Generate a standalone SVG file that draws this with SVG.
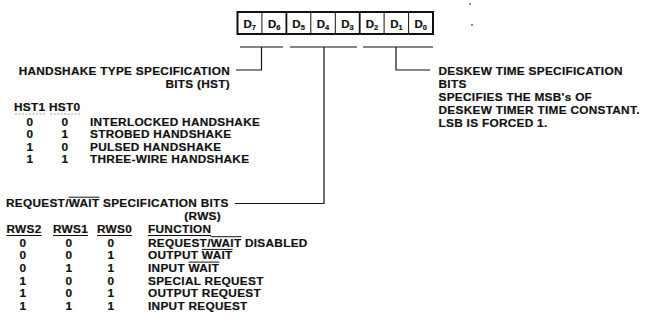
<svg xmlns="http://www.w3.org/2000/svg" width="649" height="323" viewBox="0 0 649 323">
<style>
text{font-family:"Liberation Sans",Arial,sans-serif;font-weight:bold;font-size:11.8px;letter-spacing:0.3px;fill:#111;stroke:#111;stroke-width:0.2px}
.reg{font-size:11.5px;letter-spacing:0}
.sub{font-size:7.5px}
.mid{text-anchor:middle}
.end{text-anchor:end}
.box{fill:#fff;stroke:#111;stroke-width:2}
.sep{stroke:#111;stroke-width:1}
.sepb{stroke:#111;stroke-width:1.8}
.wire{fill:none;stroke:#111;stroke-width:1.2}
.bar{stroke:#111;stroke-width:1}
.faint{stroke:#888;stroke-width:0.8;stroke-dasharray:2 1.5}
</style>
<g id="register">
<rect class="box" x="237.5" y="12" width="195.5" height="22"/>
<line class="sep" x1="261.9" y1="12" x2="261.9" y2="34"/>
<line class="sepb" x1="286.4" y1="12" x2="286.4" y2="34"/>
<line class="sep" x1="310.8" y1="12" x2="310.8" y2="34"/>
<line class="sep" x1="335.3" y1="12" x2="335.3" y2="34"/>
<line class="sepb" x1="359.7" y1="12" x2="359.7" y2="34"/>
<line class="sep" x1="384.1" y1="12" x2="384.1" y2="34"/>
<line class="sep" x1="408.6" y1="12" x2="408.6" y2="34"/>
<text class="reg mid" x="249.7" y="27.5">D<tspan class="sub" dy="2">7</tspan></text>
<text class="reg mid" x="274.2" y="27.5">D<tspan class="sub" dy="2">6</tspan></text>
<text class="reg mid" x="298.6" y="27.5">D<tspan class="sub" dy="2">5</tspan></text>
<text class="reg mid" x="323.0" y="27.5">D<tspan class="sub" dy="2">4</tspan></text>
<text class="reg mid" x="347.5" y="27.5">D<tspan class="sub" dy="2">3</tspan></text>
<text class="reg mid" x="371.9" y="27.5">D<tspan class="sub" dy="2">2</tspan></text>
<text class="reg mid" x="396.4" y="27.5">D<tspan class="sub" dy="2">1</tspan></text>
<text class="reg mid" x="420.8" y="27.5">D<tspan class="sub" dy="2">0</tspan></text>
</g>
<g id="connectors">
<line class="wire" x1="240" y1="47" x2="283" y2="47"/>
<line class="wire" x1="290" y1="47" x2="357" y2="47"/>
<line class="wire" x1="363" y1="47" x2="433" y2="47"/>
<polyline class="wire" points="261.5,47 261.5,70 236,70"/>
<polyline class="wire" points="324,47 324,203.5 235,203.5"/>
<polyline class="wire" points="396,47 396,70 430,70"/>
</g>
<g id="hst-label">
<text class="end" x="230" y="74.5">HANDSHAKE TYPE SPECIFICATION</text>
<text class="end" x="230" y="88">BITS (HST)</text>
</g>
<g id="hst-table">
<text x="14" y="111">HST1 HST0</text>
<line class="faint" x1="15" y1="114" x2="45" y2="114"/>
<line class="faint" x1="50" y1="114" x2="80" y2="114"/>
<text class="mid" x="30" y="125.5">0</text><text class="mid" x="65" y="125.5">0</text><text x="90" y="125.5">INTERLOCKED HANDSHAKE</text>
<text class="mid" x="30" y="138">0</text><text class="mid" x="65" y="138">1</text><text x="90" y="138">STROBED HANDSHAKE</text>
<text class="mid" x="30" y="150.5">1</text><text class="mid" x="65" y="150.5">0</text><text x="90" y="150.5">PULSED HANDSHAKE</text>
<text class="mid" x="30" y="163">1</text><text class="mid" x="65" y="163">1</text><text x="90" y="163">THREE-WIRE HANDSHAKE</text>
</g>
<g id="rws-label">
<text x="6" y="207">REQUEST/WAIT SPECIFICATION BITS</text>
<line class="bar" x1="68.7" y1="197.2" x2="99.5" y2="197.2"/>
<text class="end" x="221" y="220">(RWS)</text>
</g>
<g id="rws-table">
<text x="6.5" y="233">RWS2</text>
<text x="53" y="233">RWS1</text>
<text x="97" y="233">RWS0</text>
<text x="148" y="233">FUNCTION</text>
<line class="bar" x1="6.5" y1="235.5" x2="41.5" y2="235.5"/>
<line class="bar" x1="53" y1="235.5" x2="88" y2="235.5"/>
<line class="bar" x1="97" y1="235.5" x2="132" y2="235.5"/>
<line class="bar" x1="148" y1="235.5" x2="211" y2="235.5"/>
<text class="mid" x="23" y="246.5">0</text><text class="mid" x="69" y="246.5">0</text><text class="mid" x="111" y="246.5">0</text><text x="148" y="246.5">REQUEST/WAIT DISABLED</text>
<line class="bar" x1="210.7" y1="236.7" x2="241.5" y2="236.7"/>
<text class="mid" x="23" y="259.2">0</text><text class="mid" x="69" y="259.2">0</text><text class="mid" x="111" y="259.2">1</text><text x="148" y="259.2">OUTPUT WAIT</text>
<line class="bar" x1="201.9" y1="249.4" x2="232.7" y2="249.4"/>
<text class="mid" x="23" y="271.9">0</text><text class="mid" x="69" y="271.9">1</text><text class="mid" x="111" y="271.9">1</text><text x="148" y="271.9">INPUT WAIT</text>
<line class="bar" x1="188.5" y1="262.1" x2="219.3" y2="262.1"/>
<text class="mid" x="23" y="284.6">1</text><text class="mid" x="69" y="284.6">0</text><text class="mid" x="111" y="284.6">0</text><text x="148" y="284.6">SPECIAL REQUEST</text>
<text class="mid" x="23" y="297.3">1</text><text class="mid" x="69" y="297.3">0</text><text class="mid" x="111" y="297.3">1</text><text x="148" y="297.3">OUTPUT REQUEST</text>
<text class="mid" x="23" y="310">1</text><text class="mid" x="69" y="310">1</text><text class="mid" x="111" y="310">1</text><text x="148" y="310">INPUT REQUEST</text>
</g>
<g id="deskew-label">
<text x="438.5" y="74.5">DESKEW TIME SPECIFICATION</text>
<text x="438.5" y="87.5">BITS</text>
<text x="438.5" y="100.5">SPECIFIES THE MSB's OF</text>
<text x="438.5" y="113.5">DESKEW TIMER TIME CONSTANT.</text>
<text x="438.5" y="126.5">LSB IS FORCED 1.</text>
</g>
<g id="specks" fill="#555">
<circle cx="470" cy="4" r="0.9"/>
<circle cx="472" cy="25" r="0.9"/>
</g>
</svg>
